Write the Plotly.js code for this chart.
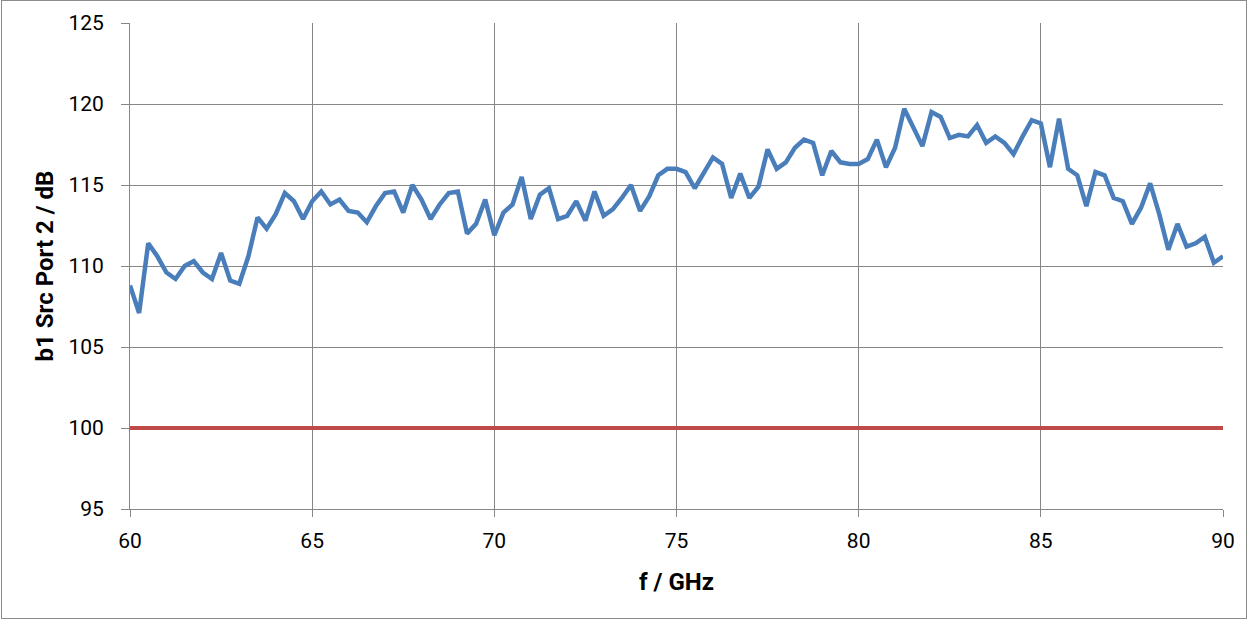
<!DOCTYPE html>
<html>
<head>
<meta charset="utf-8">
<script src="https://cdn.plot.ly/plotly-3.0.1.min.js"></script>
<style>
html,body{margin:0;padding:0;background:#fff;}
#wrap{position:relative;width:1248px;height:621px;}
#chart{width:1248px;height:621px;}
#frame{position:absolute;left:1px;top:0px;width:1244px;height:617px;border:1px solid #8c8c8c;pointer-events:none;}
</style>
</head>
<body>
<div id="wrap"><div id="chart"></div><div id="frame"></div></div>
<script>
const freqGHz = [
 60.00,60.25,60.50,60.75,61.00,61.25,61.50,61.75,62.00,62.25,62.50,62.75,
 63.00,63.25,63.50,63.75,64.00,64.25,64.50,64.75,65.00,65.25,65.50,65.75,
 66.00,66.25,66.50,66.75,67.00,67.25,67.50,67.75,68.00,68.25,68.50,68.75,
 69.00,69.25,69.50,69.75,70.00,70.25,70.50,70.75,71.00,71.25,71.50,71.75,
 72.00,72.25,72.50,72.75,73.00,73.25,73.50,73.75,74.00,74.25,74.50,74.75,
 75.00,75.25,75.50,75.75,76.00,76.25,76.50,76.75,77.00,77.25,77.50,77.75,
 78.00,78.25,78.50,78.75,79.00,79.25,79.50,79.75,80.00,80.25,80.50,80.75,
 81.00,81.25,81.50,81.75,82.00,82.25,82.50,82.75,83.00,83.25,83.50,83.75,
 84.00,84.25,84.50,84.75,85.00,85.25,85.50,85.75,86.00,86.25,86.50,86.75,
 87.00,87.25,87.50,87.75,88.00,88.25,88.50,88.75,89.00,89.25,89.50,89.75,
 90.00
];
const b1SrcPort2 = [
 108.8,107.1,111.4,110.6,109.6,109.2,110.0,110.3,109.6,109.2,110.8,109.1,
 108.9,110.6,113.0,112.3,113.2,114.5,114.0,112.9,114.0,114.6,113.8,114.1,
 113.4,113.3,112.7,113.7,114.5,114.6,113.3,115.0,114.1,112.9,113.8,114.5,
 114.6,112.0,112.6,114.1,111.9,113.3,113.8,115.5,112.9,114.4,114.8,112.9,
 113.1,114.0,112.8,114.6,113.1,113.5,114.2,115.0,113.4,114.3,115.6,116.0,
 116.0,115.8,114.8,115.8,116.7,116.3,114.2,115.7,114.2,114.9,117.2,116.0,
 116.4,117.3,117.8,117.6,115.6,117.1,116.4,116.3,116.3,116.6,117.8,116.1,
 117.3,119.7,118.6,117.4,119.5,119.2,117.9,118.1,118.0,118.7,117.6,118.0,
 117.6,116.9,118.0,119.0,118.8,116.1,119.1,116.0,115.6,113.7,115.8,115.6,
 114.2,114.0,112.6,113.6,115.1,113.2,111.0,112.6,111.2,111.4,111.8,110.2,
 110.6
];
const refFreq = [60, 90];
const refLevel = [100, 100];
const xTicks = [60, 65, 70, 75, 80, 85, 90];
const yTicks = [95, 100, 105, 110, 115, 120, 125];

const fontFam = "Roboto, 'Liberation Sans', sans-serif";

const traces = [
  {x: refFreq, y: refLevel, type: 'scatter', mode: 'lines',
   line: {color: '#be4b48', width: 4}, hoverinfo: 'skip'},
  {x: freqGHz, y: b1SrcPort2, type: 'scatter', mode: 'lines',
   line: {color: '#4a7ebb', width: 4.5, shape: 'linear'}}
];

const layout = {
  width: 1248, height: 621,
  margin: {l: 130, r: 25, t: 23, b: 112},
  paper_bgcolor: '#ffffff', plot_bgcolor: '#ffffff',
  showlegend: false,
  font: {family: fontFam, size: 21, color: '#000'},
  xaxis: {
    range: [60, 90], tickvals: xTicks, ticktext: xTicks.map(String),
    showgrid: true, gridcolor: '#868686', gridwidth: 1,
    showline: true, linecolor: '#868686', linewidth: 1, mirror: false,
    ticks: 'outside', ticklen: 7, tickcolor: '#868686',
    ticklabelstandoff: 6,
    zeroline: false, tickfont: {family: fontFam, size: 21, color: '#000'},
    title: {text: 'f / GHz', font: {family: fontFam, size: 24, color: '#000', weight: 'bold'}, standoff: 20}
  },
  yaxis: {
    range: [95, 125], tickvals: yTicks, ticktext: yTicks.map(String),
    showgrid: true, gridcolor: '#868686', gridwidth: 1,
    showline: true, linecolor: '#868686', linewidth: 1,
    ticks: 'outside', ticklen: 8, tickcolor: '#868686',
    ticklabelstandoff: 13,
    zeroline: false, tickfont: {family: fontFam, size: 21, color: '#000'},
    title: {text: 'b1 Src Port 2 / dB', font: {family: fontFam, size: 24, color: '#000', weight: 'bold'}, standoff: 7}
  }
};

Plotly.newPlot('chart', traces, layout, {displayModeBar: false, staticPlot: true});
</script>
</body>
</html>
